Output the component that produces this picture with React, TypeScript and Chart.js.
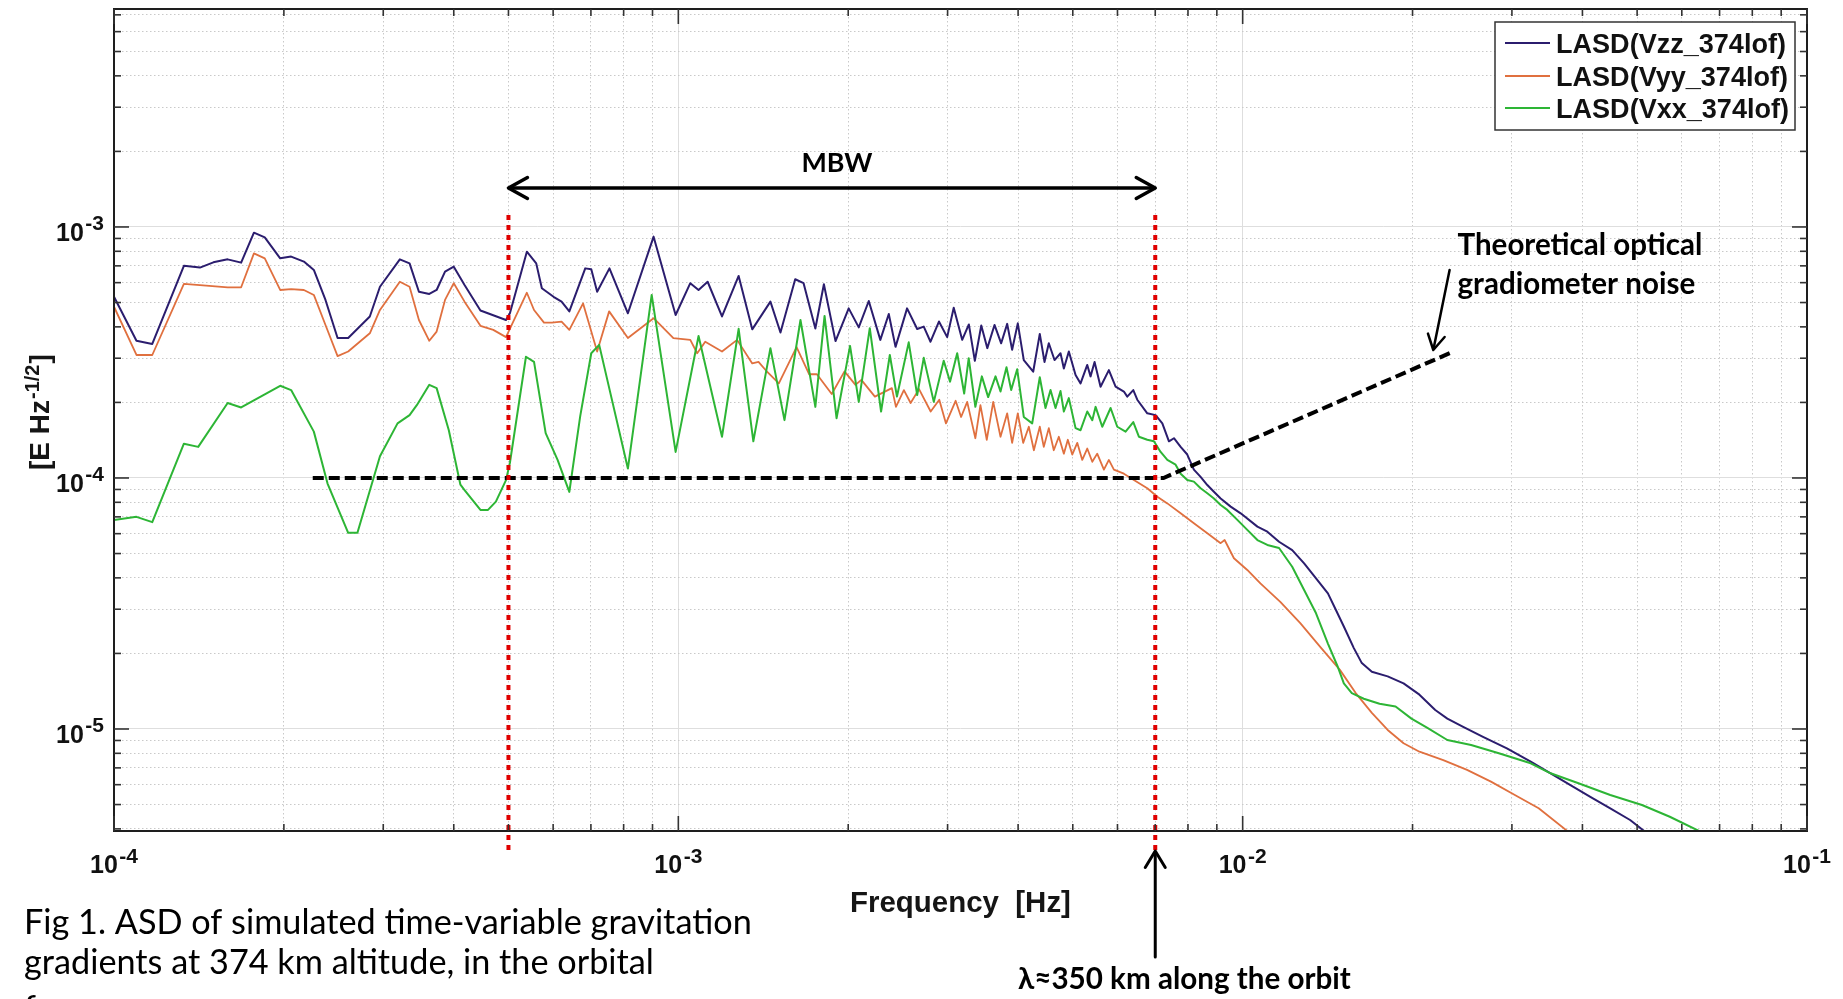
import React, { useEffect, useRef } from 'react';
import { Chart, registerables } from 'chart.js';

Chart.register(...registerables);

// ---------------- data (frequency [Hz], LASD [E Hz^-1/2]) ----------------
const vzzData: [number, number][] = [
  [1.0e-4, 5.27e-4], [1.096e-4, 3.52e-4], [1.169e-4, 3.42e-4], [1.33e-4, 7.0e-4], [1.42e-4, 6.89e-4],
  [1.5e-4, 7.23e-4], [1.59e-4, 7.43e-4], [1.68e-4, 7.21e-4], [1.77e-4, 9.49e-4], [1.85e-4, 9.09e-4],
  [1.97e-4, 7.5e-4], [2.06e-4, 7.62e-4], [2.17e-4, 7.28e-4], [2.26e-4, 6.74e-4], [2.37e-4, 5.12e-4],
  [2.49e-4, 3.61e-4], [2.6e-4, 3.61e-4], [2.84e-4, 4.4e-4], [2.96e-4, 5.78e-4], [3.21e-4, 7.43e-4],
  [3.34e-4, 7.16e-4], [3.47e-4, 5.52e-4], [3.62e-4, 5.41e-4], [3.73e-4, 5.61e-4], [3.86e-4, 6.64e-4],
  [4.0e-4, 6.95e-4], [4.18e-4, 5.87e-4], [4.46e-4, 4.65e-4], [4.95e-4, 4.26e-4], [5.03e-4, 4.53e-4],
  [5.39e-4, 7.97e-4], [5.6e-4, 7.16e-4], [5.73e-4, 5.7e-4], [6.01e-4, 5.27e-4], [6.21e-4, 5.04e-4],
  [6.41e-4, 4.61e-4], [6.84e-4, 6.84e-4], [7.01e-4, 6.78e-4], [7.18e-4, 5.52e-4], [7.55e-4, 6.84e-4],
  [8.14e-4, 4.53e-4], [9.04e-4, 9.15e-4], [9.89e-4, 4.46e-4], [1.05e-3, 5.97e-4], [1.086e-3, 5.61e-4],
  [1.127e-3, 6.05e-4], [1.195e-3, 4.4e-4], [1.279e-3, 6.38e-4], [1.352e-3, 3.91e-4], [1.456e-3, 5.04e-4],
  [1.517e-3, 3.8e-4], [1.611e-3, 6.19e-4], [1.667e-3, 5.97e-4], [1.749e-3, 3.94e-4], [1.811e-3, 5.91e-4],
  [1.899e-3, 3.51e-4], [2.004e-3, 4.74e-4], [2.088e-3, 3.98e-4], [2.175e-3, 5.07e-4], [2.28e-3, 3.55e-4],
  [2.36e-3, 4.5e-4], [2.426e-3, 3.33e-4], [2.543e-3, 4.74e-4], [2.65e-3, 3.92e-4], [2.722e-3, 4.01e-4],
  [2.798e-3, 3.49e-4], [2.896e-3, 4.2e-4], [2.995e-3, 3.64e-4], [3.076e-3, 4.77e-4], [3.184e-3, 3.55e-4],
  [3.272e-3, 4.09e-4], [3.353e-3, 2.93e-4], [3.442e-3, 4.05e-4], [3.528e-3, 3.29e-4], [3.633e-3, 4.07e-4],
  [3.733e-3, 3.44e-4], [3.826e-3, 4.11e-4], [3.904e-3, 3.24e-4], [3.995e-3, 4.13e-4], [4.094e-3, 2.95e-4],
  [4.254e-3, 2.65e-4], [4.37e-3, 3.75e-4], [4.455e-3, 2.9e-4], [4.534e-3, 3.44e-4], [4.641e-3, 2.95e-4],
  [4.756e-3, 3.14e-4], [4.821e-3, 2.73e-4], [4.92e-3, 3.19e-4], [5.057e-3, 2.57e-4], [5.161e-3, 2.38e-4],
  [5.304e-3, 2.82e-4], [5.376e-3, 2.54e-4], [5.465e-3, 2.9e-4], [5.6e-3, 2.31e-4], [5.793e-3, 2.69e-4],
  [5.954e-3, 2.31e-4], [6.159e-3, 2.21e-4], [6.245e-3, 2.11e-4], [6.4e-3, 2.24e-4], [6.505e-3, 2.05e-4],
  [6.776e-3, 1.81e-4], [7.01e-3, 1.78e-4], [7.205e-3, 1.65e-4], [7.402e-3, 1.4e-4], [7.555e-3, 1.44e-4],
  [7.764e-3, 1.33e-4], [7.977e-3, 1.24e-4], [8.195e-3, 1.08e-4], [8.423e-3, 1.01e-4], [8.657e-3, 9.37e-5],
  [8.893e-3, 8.81e-5], [9.141e-3, 8.29e-5], [9.522e-3, 7.69e-5], [9.919e-3, 7.23e-5], [1.062e-2, 6.4e-5],
  [1.106e-2, 6.11e-5], [1.16e-2, 5.57e-5], [1.224e-2, 5.16e-5], [1.285e-2, 4.57e-5], [1.349e-2, 3.98e-5],
  [1.416e-2, 3.47e-5], [1.463e-2, 2.98e-5], [1.511e-2, 2.56e-5], [1.574e-2, 2.1e-5], [1.626e-2, 1.83e-5],
  [1.694e-2, 1.69e-5], [1.807e-2, 1.62e-5], [1.928e-2, 1.52e-5], [2.057e-2, 1.37e-5], [2.194e-2, 1.19e-5],
  [2.305e-2, 1.1e-5], [2.459e-2, 1.02e-5], [2.666e-2, 9.31e-6], [2.939e-2, 8.37e-6], [3.239e-2, 7.41e-6],
  [3.513e-2, 6.66e-6], [3.809e-2, 5.98e-6], [4.131e-2, 5.37e-6], [4.481e-2, 4.83e-6], [4.859e-2, 4.34e-6],
  [5.2e-2, 3.85e-6],
];

const vyyData: [number, number][] = [
  [1.0e-4, 4.81e-4], [1.096e-4, 3.09e-4], [1.169e-4, 3.09e-4], [1.33e-4, 5.93e-4], [1.42e-4, 5.87e-4],
  [1.59e-4, 5.75e-4], [1.68e-4, 5.75e-4], [1.77e-4, 7.85e-4], [1.85e-4, 7.5e-4], [1.97e-4, 5.61e-4],
  [2.06e-4, 5.65e-4], [2.17e-4, 5.61e-4], [2.26e-4, 5.36e-4], [2.37e-4, 4.07e-4], [2.49e-4, 3.06e-4],
  [2.6e-4, 3.19e-4], [2.84e-4, 3.77e-4], [2.96e-4, 4.67e-4], [3.21e-4, 6.05e-4], [3.34e-4, 5.78e-4],
  [3.47e-4, 4.26e-4], [3.62e-4, 3.52e-4], [3.73e-4, 3.83e-4], [3.86e-4, 5.12e-4], [4.0e-4, 5.97e-4],
  [4.18e-4, 5.04e-4], [4.46e-4, 4.04e-4], [4.7e-4, 3.89e-4], [4.95e-4, 3.64e-4], [5.39e-4, 5.47e-4],
  [5.55e-4, 4.67e-4], [5.78e-4, 4.16e-4], [5.97e-4, 4.16e-4], [6.21e-4, 4.2e-4], [6.41e-4, 3.89e-4],
  [6.78e-4, 4.96e-4], [7.18e-4, 3.19e-4], [7.54e-4, 4.61e-4], [8.14e-4, 3.61e-4], [9.04e-4, 4.33e-4],
  [9.8e-4, 3.61e-4], [1.05e-3, 3.55e-4], [1.08e-3, 3.14e-4], [1.116e-3, 3.49e-4], [1.195e-3, 3.19e-4],
  [1.271e-3, 3.55e-4], [1.352e-3, 2.86e-4], [1.387e-3, 2.9e-4], [1.43e-3, 2.68e-4], [1.507e-3, 2.38e-4],
  [1.62e-3, 3.32e-4], [1.705e-3, 2.59e-4], [1.76e-3, 2.59e-4], [1.87e-3, 2.16e-4], [1.97e-3, 2.66e-4],
  [2.06e-3, 2.35e-4], [2.11e-3, 2.46e-4], [2.23e-3, 2.11e-4], [2.39e-3, 2.28e-4], [2.43e-3, 1.92e-4],
  [2.51e-3, 2.24e-4], [2.58e-3, 1.99e-4], [2.67e-3, 2.26e-4], [2.8e-3, 1.84e-4], [2.9e-3, 2.05e-4],
  [2.98e-3, 1.65e-4], [3.1e-3, 2.03e-4], [3.17e-3, 1.75e-4], [3.25e-3, 2.01e-4], [3.36e-3, 1.44e-4],
  [3.43e-3, 1.95e-4], [3.52e-3, 1.42e-4], [3.614e-3, 2.01e-4], [3.723e-3, 1.46e-4], [3.826e-3, 1.81e-4],
  [3.904e-3, 1.38e-4], [3.995e-3, 1.81e-4], [4.084e-3, 1.38e-4], [4.179e-3, 1.6e-4], [4.266e-3, 1.29e-4],
  [4.37e-3, 1.6e-4], [4.442e-3, 1.33e-4], [4.534e-3, 1.58e-4], [4.627e-3, 1.29e-4], [4.723e-3, 1.46e-4],
  [4.821e-3, 1.25e-4], [4.9e-3, 1.42e-4], [4.989e-3, 1.24e-4], [5.092e-3, 1.38e-4], [5.197e-3, 1.18e-4],
  [5.304e-3, 1.31e-4], [5.414e-3, 1.16e-4], [5.524e-3, 1.25e-4], [5.677e-3, 1.08e-4], [5.793e-3, 1.18e-4],
  [5.913e-3, 1.08e-4], [6.159e-3, 1.04e-4], [6.415e-3, 9.82e-5], [6.776e-3, 9.1e-5], [7.06e-3, 8.42e-5],
  [7.354e-3, 7.92e-5], [7.764e-3, 7.23e-5], [8.195e-3, 6.6e-5], [8.657e-3, 6.02e-5], [9.141e-3, 5.5e-5],
  [9.29e-3, 5.66e-5], [9.65e-3, 4.79e-5], [1.019e-2, 4.3e-5], [1.075e-2, 3.8e-5], [1.166e-2, 3.21e-5],
  [1.265e-2, 2.64e-5], [1.371e-2, 2.13e-5], [1.487e-2, 1.72e-5], [1.586e-2, 1.39e-5], [1.694e-2, 1.16e-5],
  [1.807e-2, 9.91e-6], [1.928e-2, 8.77e-6], [2.057e-2, 8.12e-6], [2.267e-2, 7.52e-6], [2.498e-2, 6.87e-6],
  [2.754e-2, 6.17e-6], [3.036e-2, 5.46e-6], [3.346e-2, 4.83e-6], [3.8e-2, 3.85e-6],
];

const vxxData: [number, number][] = [
  [1.0e-4, 6.8e-5], [1.096e-4, 7.0e-5], [1.169e-4, 6.67e-5], [1.33e-4, 1.37e-4], [1.41e-4, 1.33e-4],
  [1.59e-4, 1.99e-4], [1.68e-4, 1.91e-4], [1.97e-4, 2.33e-4], [2.06e-4, 2.24e-4], [2.26e-4, 1.53e-4],
  [2.39e-4, 9.5e-5], [2.6e-4, 6.05e-5], [2.7e-4, 6.05e-5], [2.96e-4, 1.22e-4], [3.18e-4, 1.65e-4],
  [3.34e-4, 1.78e-4], [3.44e-4, 1.95e-4], [3.62e-4, 2.35e-4], [3.73e-4, 2.28e-4], [3.92e-4, 1.55e-4],
  [4.11e-4, 9.4e-5], [4.18e-4, 8.95e-5], [4.46e-4, 7.46e-5], [4.6e-4, 7.46e-5], [4.75e-4, 8.05e-5],
  [4.95e-4, 9.8e-5], [5.03e-4, 1.15e-4], [5.37e-4, 3.04e-4], [5.55e-4, 2.9e-4], [5.82e-4, 1.51e-4],
  [6.11e-4, 1.18e-4], [6.41e-4, 8.8e-5], [6.7e-4, 1.76e-4], [7.01e-4, 3.14e-4], [7.24e-4, 3.39e-4],
  [8.14e-4, 1.09e-4], [8.97e-4, 5.36e-4], [9.89e-4, 1.27e-4], [1.086e-3, 3.68e-4], [1.195e-3, 1.46e-4],
  [1.279e-3, 3.93e-4], [1.358e-3, 1.4e-4], [1.456e-3, 3.29e-4], [1.542e-3, 1.7e-4], [1.646e-3, 4.26e-4],
  [1.749e-3, 1.92e-4], [1.816e-3, 4.42e-4], [1.907e-3, 1.73e-4], [2.015e-3, 3.36e-4], [2.088e-3, 2.01e-4],
  [2.184e-3, 3.95e-4], [2.287e-3, 1.84e-4], [2.37e-3, 3.09e-4], [2.44e-3, 2.11e-4], [2.56e-3, 3.47e-4],
  [2.65e-3, 2.14e-4], [2.722e-3, 3.01e-4], [2.836e-3, 2.01e-4], [2.953e-3, 2.93e-4], [3.03e-3, 2.42e-4],
  [3.12e-3, 3.14e-4], [3.21e-3, 2.17e-4], [3.27e-3, 3.0e-4], [3.36e-3, 1.92e-4], [3.45e-3, 2.54e-4],
  [3.54e-3, 2.1e-4], [3.648e-3, 2.54e-4], [3.723e-3, 2.21e-4], [3.815e-3, 2.76e-4], [3.889e-3, 2.24e-4],
  [3.985e-3, 2.71e-4], [4.094e-3, 1.75e-4], [4.237e-3, 1.65e-4], [4.37e-3, 2.52e-4], [4.473e-3, 1.9e-4],
  [4.566e-3, 2.24e-4], [4.66e-3, 1.9e-4], [4.756e-3, 2.22e-4], [4.821e-3, 1.84e-4], [4.92e-3, 2.08e-4],
  [5.057e-3, 1.58e-4], [5.161e-3, 1.55e-4], [5.304e-3, 1.84e-4], [5.414e-3, 1.7e-4], [5.488e-3, 1.92e-4],
  [5.639e-3, 1.6e-4], [5.834e-3, 1.9e-4], [5.995e-3, 1.6e-4], [6.202e-3, 1.53e-4], [6.4e-3, 1.67e-4],
  [6.548e-3, 1.46e-4], [6.776e-3, 1.42e-4], [6.962e-3, 1.4e-4], [7.155e-3, 1.27e-4], [7.354e-3, 1.18e-4],
  [7.606e-3, 1.13e-4], [7.764e-3, 1.04e-4], [7.977e-3, 9.82e-5], [8.195e-3, 9.67e-5], [8.423e-3, 9.1e-5],
  [8.657e-3, 8.69e-5], [8.893e-3, 8.29e-5], [9.141e-3, 7.8e-5], [9.393e-3, 7.46e-5], [9.785e-3, 6.81e-5],
  [1.019e-2, 6.21e-5], [1.062e-2, 5.66e-5], [1.106e-2, 5.41e-5], [1.16e-2, 5.26e-5], [1.224e-2, 4.43e-5],
  [1.285e-2, 3.58e-5], [1.349e-2, 2.89e-5], [1.416e-2, 2.19e-5], [1.474e-2, 1.77e-5], [1.511e-2, 1.52e-5],
  [1.561e-2, 1.39e-5], [1.639e-2, 1.32e-5], [1.748e-2, 1.26e-5], [1.866e-2, 1.23e-5], [1.991e-2, 1.1e-5],
  [2.125e-2, 1.01e-5], [2.305e-2, 9.04e-6], [2.54e-2, 8.63e-6], [2.844e-2, 8.0e-6], [3.239e-2, 7.3e-6],
  [3.513e-2, 6.66e-6], [3.936e-2, 6.08e-6], [4.481e-2, 5.46e-6], [5.1e-2, 4.98e-6], [5.713e-2, 4.47e-6],
  [6.55e-2, 3.85e-6],
];

// theoretical optical gradiometer noise
const noiseData: [number, number][] = [[2.25e-4, 1.0e-4], [7.24e-3, 1.0e-4], [2.333e-2, 3.15e-4]];

const seriesLabels = ['LASD(Vzz_374lof)', 'LASD(Vyy_374lof)', 'LASD(Vxx_374lof)'];
const seriesColors = ['#2b1d6e', '#e0703f', '#2db535'];

const xRange = [1e-4, 1e-1];
const yRange = [3.923e-6, 7.385e-3];
const xTickValues = [1e-4, 1e-3, 1e-2, 1e-1];
const xTickExps = ['-4', '-3', '-2', '-1'];
const yTickValues = [1e-5, 1e-4, 1e-3];
const yTickExps = ['-5', '-4', '-3'];
const mbwBounds = [5e-4, 7e-3];

const xTitle = 'Frequency  [Hz]';
const yTitleMain = '[E Hz';
const yTitleSup = '-1/2';
const yTitleEnd = ']';
const mbwLabel = 'MBW';
const noiseLabel = ['Theoretical optical', 'gradiometer noise'];
const lambdaLabel = 'λ≈350 km along the orbit';
const caption = [
  'Fig 1. ASD of simulated time-variable gravitation',
  'gradients at 374 km altitude, in the orbital',
  'frame.',
];

// grid positions (1..9 x each decade)
const mantissas = [1, 2, 3, 4, 5, 6, 7, 8, 9];
const decadesX = [-4, -3, -2];
const decadesY = [-6, -5, -4, -3];
const xGrid = [...decadesX.flatMap((e) => mantissas.map((m) => +(m * Math.pow(10, e)).toPrecision(6))), 1e-1];
const yGrid = decadesY
  .flatMap((e) => mantissas.map((m) => +(m * Math.pow(10, e)).toPrecision(6)))
  .filter((v) => v >= yRange[0] && v <= yRange[1]);

const isMajor = (v: number) => Math.abs(Math.log10(v) - Math.round(Math.log10(v))) < 1e-6;

const ARIAL = '"Liberation Sans", Arial, sans-serif';
const CALIBRI = 'Lato, "Open Sans", sans-serif';

function fitSize(ctx: CanvasRenderingContext2D, text: string, weight: string, family: string, width: number) {
  ctx.font = `${weight} 100px ${family}`;
  const w = ctx.measureText(text).width;
  return (100 * width) / w;
}

function line(ctx: CanvasRenderingContext2D, x1: number, y1: number, x2: number, y2: number) {
  ctx.beginPath();
  ctx.moveTo(x1, y1);
  ctx.lineTo(x2, y2);
  ctx.stroke();
}

function arrowHead(ctx: CanvasRenderingContext2D, tx: number, ty: number, dx: number, dy: number, len: number, half: number) {
  const n = Math.hypot(dx, dy);
  const ux = dx / n, uy = dy / n;
  const bx = tx - ux * len, by = ty - uy * len;
  const nx = -uy, ny = ux;
  ctx.beginPath();
  ctx.moveTo(bx + nx * half, by + ny * half);
  ctx.lineTo(tx, ty);
  ctx.lineTo(bx - nx * half, by - ny * half);
  ctx.stroke();
}

function drawPow(ctx: CanvasRenderingContext2D, exp: string, x: number, y: number, align: 'center' | 'right') {
  const base = `bold 25px ${ARIAL}`;
  const sup = `bold 21px ${ARIAL}`;
  ctx.font = base;
  const wb = ctx.measureText('10').width;
  ctx.font = sup;
  const we = ctx.measureText(exp).width;
  const gap = 1.5;
  const total = wb + gap + we;
  const x0 = align === 'center' ? x - total / 2 : x - total;
  ctx.textAlign = 'left';
  ctx.textBaseline = 'alphabetic';
  ctx.font = base;
  ctx.fillText('10', x0, y);
  ctx.font = sup;
  ctx.fillText(exp, x0 + wb + gap, y - 10.5);
}

const overlayPlugin = {
  id: 'overlay',
  beforeDraw(chart: any) {
    const { ctx, width, height } = chart;
    ctx.save();
    ctx.fillStyle = '#ffffff';
    ctx.fillRect(0, 0, width, height);
    ctx.restore();
  },
  afterDatasetsDraw(chart: any) {
    const { ctx, chartArea: ca } = chart;
    const xs = chart.scales.x;
    const ys = chart.scales.y;
    ctx.save();

    // red dotted bandwidth limits
    ctx.strokeStyle = '#e00000';
    ctx.lineWidth = 4;
    ctx.setLineDash([5, 5]);
    for (const f of mbwBounds) {
      const px = xs.getPixelForValue(f);
      line(ctx, px, 215, px, 853);
    }
    ctx.setLineDash([]);

    // frame
    ctx.strokeStyle = '#1e1e1e';
    ctx.lineWidth = 2;
    ctx.strokeRect(ca.left, ca.top, ca.right - ca.left, ca.bottom - ca.top);

    // tick marks (inward, all four sides)
    ctx.lineWidth = 1.6;
    ctx.strokeStyle = '#333333';
    for (const v of xGrid) {
      const px = xs.getPixelForValue(v);
      const L = isMajor(v) ? 15 : 7;
      line(ctx, px, ca.bottom, px, ca.bottom - L);
      line(ctx, px, ca.top, px, ca.top + L);
    }
    for (const v of yGrid) {
      const py = ys.getPixelForValue(v);
      const L = isMajor(v) ? 15 : 7;
      line(ctx, ca.left, py, ca.left + L, py);
      line(ctx, ca.right, py, ca.right - L, py);
    }

    // tick labels
    ctx.fillStyle = '#111111';
    xTickValues.forEach((v, i) => {
      drawPow(ctx, xTickExps[i], xs.getPixelForValue(v), 873, 'center');
    });
    yTickValues.forEach((v, i) => {
      const py = ys.getPixelForValue(v);
      drawPow(ctx, yTickExps[i], 104, py + 14, 'right');
    });

    // x axis title
    ctx.fillStyle = '#151515';
    const xs1 = fitSize(ctx, xTitle, 'bold', ARIAL, 221);
    ctx.font = `bold ${xs1}px ${ARIAL}`;
    ctx.textAlign = 'left';
    ctx.fillText(xTitle, 850, 912);

    // y axis title (rotated)
    ctx.save();
    ctx.translate(49, 470);
    ctx.rotate(-Math.PI / 2);
    ctx.font = `bold 28px ${ARIAL}`;
    ctx.fillText(yTitleMain, 0, 0);
    const w1 = ctx.measureText(yTitleMain).width;
    ctx.font = `bold 20px ${ARIAL}`;
    ctx.fillText(yTitleSup, w1 + 1, -10);
    const w2 = ctx.measureText(yTitleSup).width;
    ctx.font = `bold 28px ${ARIAL}`;
    ctx.fillText(yTitleEnd, w1 + w2 + 2, 0);
    ctx.restore();

    // legend
    ctx.fillStyle = '#ffffff';
    ctx.fillRect(1495, 22, 300, 108);
    ctx.strokeStyle = '#333333';
    ctx.lineWidth = 1.5;
    ctx.strokeRect(1495, 22, 300, 108);
    const ls = fitSize(ctx, seriesLabels[0], 'bold', ARIAL, 230);
    const rows = [43, 76, 108];
    seriesLabels.forEach((lab, i) => {
      ctx.strokeStyle = seriesColors[i];
      ctx.lineWidth = 2;
      line(ctx, 1505, rows[i], 1550, rows[i]);
      ctx.fillStyle = '#111111';
      ctx.font = `bold ${ls}px ${ARIAL}`;
      ctx.textAlign = 'left';
      ctx.fillText(lab, 1556, rows[i] + 9.5);
    });

    // MBW arrow
    const xa = xs.getPixelForValue(mbwBounds[0]);
    const xb = xs.getPixelForValue(mbwBounds[1]);
    ctx.strokeStyle = '#000000';
    ctx.lineWidth = 3.5;
    ctx.lineCap = 'round';
    ctx.lineJoin = 'round';
    line(ctx, xa + 2, 188, xb - 2, 188);
    arrowHead(ctx, xa, 188, -1, 0, 19, 10.5);
    arrowHead(ctx, xb, 188, 1, 0, 19, 10.5);
    ctx.fillStyle = '#000000';
    const ms = fitSize(ctx, mbwLabel, 'bold', CALIBRI, 71);
    ctx.font = `bold ${ms}px ${CALIBRI}`;
    ctx.fillText(mbwLabel, 801.5, 171.5);

    // theoretical noise annotation
    const ns = fitSize(ctx, noiseLabel[0], 'bold', CALIBRI, 245);
    ctx.font = `bold ${ns}px ${CALIBRI}`;
    ctx.fillText(noiseLabel[0], 1457.5, 255);
    ctx.fillText(noiseLabel[1], 1457.5, 293.5);
    ctx.lineWidth = 2.5;
    line(ctx, 1449.6, 270, 1433.5, 349);
    arrowHead(ctx, 1433.3, 350, -16.3, 80, 15, 8.5);

    // lambda arrow and label
    ctx.lineWidth = 3;
    line(ctx, xb, 957, xb, 852);
    arrowHead(ctx, xb, 851, 0, -1, 16.5, 10);
    const lsz = fitSize(ctx, lambdaLabel, 'bold', CALIBRI, 333);
    ctx.font = `bold ${lsz}px ${CALIBRI}`;
    ctx.fillText(lambdaLabel, 1018, 989);

    // caption (third line is cut by the page edge)
    const cs = fitSize(ctx, caption[0], 'normal', CALIBRI, 728);
    ctx.font = `normal ${cs}px ${CALIBRI}`;
    ctx.fillStyle = '#000000';
    ctx.fillText(caption[0], 24, 934);
    ctx.fillText(caption[1], 24, 973.5);
    ctx.fillText(caption[2], 24, 1020);

    ctx.restore();
  },
};

export default function App() {
  const canvasRef = useRef<HTMLCanvasElement | null>(null);

  useEffect(() => {
    const canvas = canvasRef.current;
    if (!canvas) return;
    const toPts = (arr: [number, number][]) => arr.map(([x, y]) => ({ x, y }));
    const lineDs = (label: string, data: [number, number][], color: string, width: number) => ({
      label,
      data: toPts(data),
      borderColor: color,
      backgroundColor: color,
      borderWidth: width,
      pointRadius: 0,
      tension: 0,
      fill: false,
      borderJoinStyle: 'round' as const,
    });

    const chart = new Chart(canvas, {
      type: 'line',
      data: {
        datasets: [
          {
            label: 'Theoretical optical gradiometer noise',
            data: toPts(noiseData),
            borderColor: '#000000',
            borderWidth: 4,
            borderDash: [11, 5],
            pointRadius: 0,
            tension: 0,
            fill: false,
          },
          lineDs(seriesLabels[2], vxxData, seriesColors[2], 2),
          lineDs(seriesLabels[1], vyyData, seriesColors[1], 1.8),
          lineDs(seriesLabels[0], vzzData, seriesColors[0], 2),
        ],
      },
      options: {
        responsive: false,
        animation: false,
        events: [],
        layout: { padding: { left: 0, top: 9, right: 36, bottom: 0 } },
        plugins: { legend: { display: false }, tooltip: { enabled: false }, title: { display: false } },
        scales: {
          x: {
            type: 'logarithmic',
            min: xRange[0],
            max: xRange[1],
            afterBuildTicks: (s: any) => {
              s.ticks = xGrid.map((v) => ({ value: v }));
            },
            afterFit: (s: any) => {
              s.height = 168;
            },
            ticks: { display: false },
            grid: {
              drawTicks: false,
              lineWidth: 1,
              color: (c: any) => (c.tick && isMajor(c.tick.value) ? '#dedede' : '#c9c9c9'),
            },
            border: {
              display: false,
              dash: (c: any) => (c.tick && isMajor(c.tick.value) ? [] : [1.5, 2.5]),
            },
          },
          y: {
            type: 'logarithmic',
            min: yRange[0],
            max: yRange[1],
            afterBuildTicks: (s: any) => {
              s.ticks = yGrid.map((v) => ({ value: v }));
            },
            afterFit: (s: any) => {
              s.width = 114;
            },
            ticks: { display: false },
            grid: {
              drawTicks: false,
              lineWidth: 1,
              color: (c: any) => (c.tick && isMajor(c.tick.value) ? '#dedede' : '#c9c9c9'),
            },
            border: {
              display: false,
              dash: (c: any) => (c.tick && isMajor(c.tick.value) ? [] : [1.5, 2.5]),
            },
          },
        },
      } as any,
      plugins: [overlayPlugin],
    });
    return () => chart.destroy();
  }, []);

  return (
    <div style={{ position: 'absolute', left: 0, top: 0, width: 1843, height: 999, background: '#fff', overflow: 'hidden' }}>
      <canvas ref={canvasRef} width={1843} height={999} style={{ display: 'block', width: 1843, height: 999 }} />
    </div>
  );
}
